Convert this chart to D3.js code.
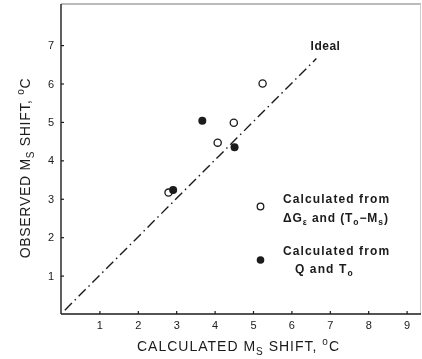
<!DOCTYPE html>
<html>
<head>
<meta charset="utf-8">
<script src="https://cdn.jsdelivr.net/npm/d3@7"></script>
<style>
  html, body { margin: 0; padding: 0; background: #fff; }
  svg { display: block; }
  text { font-family: "Liberation Sans", Arial, sans-serif; fill: #1a1a1a; }
</style>
</head>
<body>
<svg id="chart" width="422" height="359"></svg>
<script>
// M_s shift: observed vs calculated (°C)
const openX = [5.25, 4.5, 4.08, 2.8];
const openY = [6.0, 4.98, 4.46, 3.16];
const filledX = [3.68, 4.52, 2.92];
const filledY = [5.03, 4.34, 3.23];
const xTicks = [1, 2, 3, 4, 5, 6, 7, 8, 9];
const yTicks = [1, 2, 3, 4, 5, 6, 7];
const idealLine = [0.1, 6.65];

const svg = d3.select("#chart");
const margin = { left: 61, top: 4, right: 1, bottom: 45 };
const W = 422, H = 359;

const x = d3.scaleLinear().domain([0, 9.375]).range([margin.left, W - margin.right]);
const y = d3.scaleLinear().domain([0, 8.07]).range([H - margin.bottom, margin.top]);

const ink = "#1a1a1a";
const soft = svg.append("defs").append("filter").attr("id", "soft");
soft.append("feGaussianBlur").attr("stdDeviation", 0.35);

const g = svg.append("g").attr("filter", "url(#soft)");

// frame: faint top and right edges
g.append("line").attr("x1", x(0)).attr("x2", x(9.375)).attr("y1", y(8.07)).attr("y2", y(8.07))
  .attr("stroke", "#777").attr("stroke-width", 1.2);
g.append("line").attr("x1", x(9.375) - 0.5).attr("x2", x(9.375) - 0.5).attr("y1", y(8.07)).attr("y2", y(0))
  .attr("stroke", "#ccc").attr("stroke-width", 1);

// axes with inward ticks
const xAxis = d3.axisBottom(x).tickValues(xTicks).tickSizeInner(-3).tickSizeOuter(0).tickPadding(7);
const yAxis = d3.axisLeft(y).tickValues(yTicks).tickSizeInner(-3).tickSizeOuter(0).tickPadding(7);

const gx = g.append("g").attr("transform", `translate(0,${y(0)})`).call(xAxis);
const gy = g.append("g").attr("transform", `translate(${x(0)},0)`).call(yAxis);
[gx, gy].forEach(a => {
  a.select(".domain").attr("stroke", ink).attr("stroke-width", 1.4);
  a.selectAll(".tick line").attr("stroke", ink).attr("stroke-width", 1.2);
  a.selectAll(".tick text").attr("font-size", 11).attr("fill", ink);
});
gx.select(".domain").attr("d", `M${x(0)},0H${x(9.375)}`);
gy.select(".domain").attr("d", `M0,${y(0)}V${y(8.07)}`);

// ideal line (dash-dot)
g.append("line")
  .attr("x1", x(idealLine[0])).attr("y1", y(idealLine[0]))
  .attr("x2", x(idealLine[1])).attr("y2", y(idealLine[1]))
  .attr("stroke", ink).attr("stroke-width", 1.4)
  .attr("stroke-dasharray", "10,4,1.5,4");
g.append("text").attr("x", 325.5).attr("y", 50).attr("text-anchor", "middle")
  .attr("font-size", 12).attr("font-weight", "bold").attr("letter-spacing", 0.5).text("Ideal");

// points
g.selectAll("circle.open").data(openX).join("circle").attr("class", "open")
  .attr("cx", d => x(d)).attr("cy", (d, i) => y(openY[i])).attr("r", 3.6)
  .attr("fill", "#fff").attr("stroke", ink).attr("stroke-width", 1.3);
g.selectAll("circle.filled").data(filledX).join("circle").attr("class", "filled")
  .attr("cx", d => x(d)).attr("cy", (d, i) => y(filledY[i])).attr("r", 4)
  .attr("fill", ink);

// legend
const lg = g.append("g");
lg.append("circle").attr("cx", 260.5).attr("cy", 206.5).attr("r", 3.3)
  .attr("fill", "#fff").attr("stroke", ink).attr("stroke-width", 1.3);
lg.append("circle").attr("cx", 260.5).attr("cy", 260).attr("r", 3.8).attr("fill", ink);

const legFont = 12;
const subFont = 8.5;
lg.append("text").attr("x", 283).attr("y", 203).attr("font-size", legFont).attr("font-weight", "bold")
  .attr("letter-spacing", 1.1).text("Calculated from");
const l2 = lg.append("text").attr("x", 283).attr("y", 222).attr("font-size", legFont).attr("font-weight", "bold")
  .attr("letter-spacing", 0.9);
l2.append("tspan").text("ΔG");
l2.append("tspan").attr("font-size", subFont).attr("dy", 3).text("ε");
l2.append("tspan").attr("dy", -3).text(" and (T");
l2.append("tspan").attr("font-size", subFont).attr("dy", 3).text("o");
l2.append("tspan").attr("dy", -3).text("−M");
l2.append("tspan").attr("font-size", subFont).attr("dy", 3).text("s");
l2.append("tspan").attr("dy", -3).text(")");

lg.append("text").attr("x", 283).attr("y", 255).attr("font-size", legFont).attr("font-weight", "bold")
  .attr("letter-spacing", 1.1).text("Calculated from");
const l4 = lg.append("text").attr("x", 295).attr("y", 273).attr("font-size", legFont).attr("font-weight", "bold")
  .attr("letter-spacing", 1.1);
l4.append("tspan").text("Q and T");
l4.append("tspan").attr("font-size", subFont).attr("dy", 3).text("o");

// axis titles
const xt = g.append("text").attr("x", 238.5).attr("y", 351).attr("text-anchor", "middle")
  .attr("font-size", 14).attr("letter-spacing", 1.0);
xt.append("tspan").text("CALCULATED  M");
xt.append("tspan").attr("font-size", 10).attr("dy", 4).text("S");
xt.append("tspan").attr("dy", -4).text(" SHIFT, ");
xt.append("tspan").attr("font-size", 10).attr("dy", -6).text("o");
xt.append("tspan").attr("dy", 6).text("C");

const yt = g.append("text").attr("transform", "translate(30,168) rotate(-90)").attr("text-anchor", "middle")
  .attr("font-size", 14).attr("letter-spacing", 0.7);
yt.append("tspan").text("OBSERVED  M");
yt.append("tspan").attr("font-size", 10).attr("dy", 4).text("S");
yt.append("tspan").attr("dy", -4).text(" SHIFT, ");
yt.append("tspan").attr("font-size", 10).attr("dy", -6).text("o");
yt.append("tspan").attr("dy", 6).text("C");
</script>
</body>
</html>
